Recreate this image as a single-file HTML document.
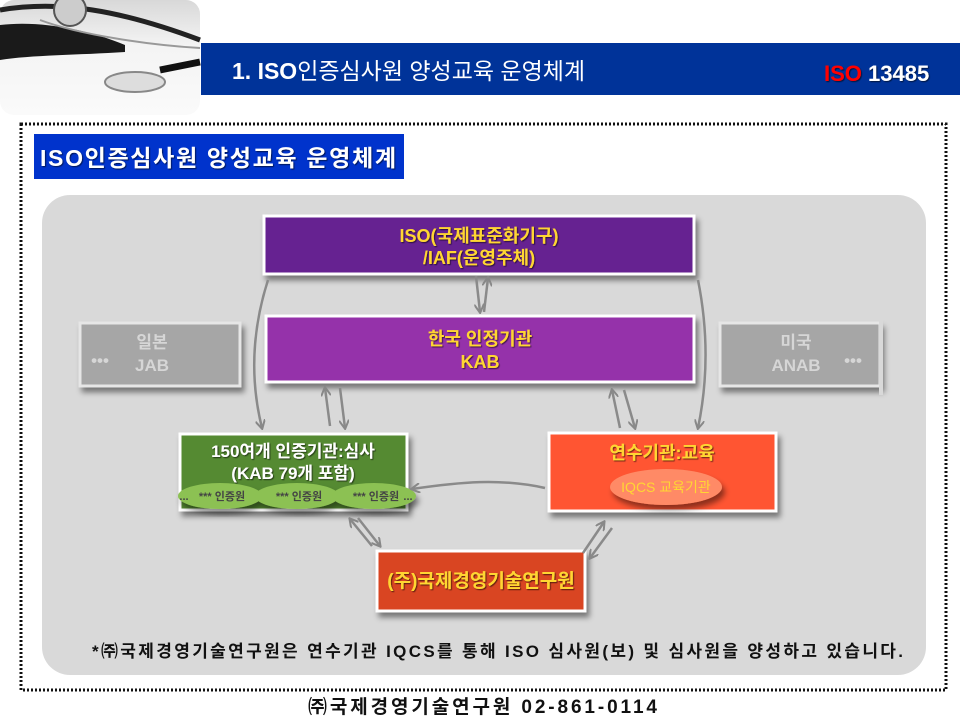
<!DOCTYPE html>
<html><head><meta charset="utf-8"><style>
body{margin:0;width:960px;height:720px;background:#fff;overflow:hidden;font-family:"Liberation Sans","Noto Sans CJK KR",sans-serif}
</style></head><body>
<svg width="960" height="720" viewBox="0 0 960 720" xmlns="http://www.w3.org/2000/svg" font-family="Liberation Sans, Noto Sans CJK KR, sans-serif">
<defs>
<filter id="sh" x="-10%" y="-10%" width="130%" height="140%"><feDropShadow dx="3" dy="5" stdDeviation="3" flood-color="#000" flood-opacity="0.45"/></filter>
<filter id="ts"><feDropShadow dx="1" dy="1" stdDeviation="0.6" flood-color="#000" flood-opacity="0.6"/></filter>
<marker id="ar" markerWidth="10" markerHeight="10" refX="8" refY="5" orient="auto" markerUnits="userSpaceOnUse"><path d="M0,0 L9,5 L0,10" fill="none" stroke="#888" stroke-width="2"/></marker>
<linearGradient id="ph" x1="0" y1="0" x2="0" y2="1"><stop offset="0" stop-color="#d8d8d8"/><stop offset="0.4" stop-color="#f4f4f4"/><stop offset="1" stop-color="#fafafa"/></linearGradient>
<clipPath id="pc"><rect x="42" y="195" width="884" height="480" rx="28"/></clipPath>
</defs>
<rect x="0" y="0" width="200" height="115" rx="14" fill="url(#ph)"/>
<path d="M0,25 C40,20 90,30 125,45 L125,52 C80,55 30,55 0,60 Z" fill="#1a1a1a"/>
<path d="M0,10 C60,0 120,10 200,40" stroke="#222" stroke-width="5" fill="none"/>
<path d="M40,20 C80,35 150,45 200,48" stroke="#999" stroke-width="2" fill="none"/>
<path d="M160,70 L200,62" stroke="#111" stroke-width="7"/>
<ellipse cx="135" cy="82" rx="30" ry="10" fill="#ddd" stroke="#888" stroke-width="2"/>
<circle cx="70" cy="10" r="16" fill="#ccc" stroke="#555" stroke-width="2"/>
<rect x="201" y="43" width="759" height="52" fill="#003399"/>
<text x="232" y="79" font-size="23" fill="#fff" font-weight="bold">1. ISO<tspan font-weight="normal">인증심사원 양성교육 운영체계</tspan></text>
<text x="824" y="81" font-size="22" font-weight="bold" fill="#ff0000" filter="url(#ts)">ISO <tspan fill="#fff">13485</tspan></text>
<rect x="21" y="124" width="925" height="566" fill="none" stroke="#111" stroke-width="3" stroke-dasharray="2,2"/>
<rect x="34" y="134" width="370" height="45" fill="#0033cc"/>
<text x="40" y="166" font-size="23" font-weight="bold" fill="#fff" filter="url(#ts)" textLength="356">ISO인증심사원 양성교육 운영체계</text>
<rect x="42" y="195" width="884" height="480" rx="28" fill="#d9d9d9"/>
<g filter="url(#sh)">
<rect x="80" y="323" width="160" height="63" fill="#a6a6a6" stroke="#e6e6e6" stroke-width="3"/>
</g>
<g clip-path="url(#pc)"><g filter="url(#sh)">
<rect x="720" y="323" width="160" height="63" fill="#a6a6a6" stroke="#e6e6e6" stroke-width="3"/>
</g></g>
<rect x="879" y="320" width="4" height="75" fill="#d9d9d9"/>
<g font-size="17" font-weight="bold" fill="#d6d6d6" text-anchor="middle">
<text x="152" y="348">일본</text><text x="152" y="371">JAB</text><text x="100" y="366">•••</text>
<text x="796" y="348">미국</text><text x="796" y="371">ANAB</text><text x="853" y="366">•••</text>
</g>
<g filter="url(#sh)" stroke="#fff" stroke-width="3">
<rect x="264" y="216" width="430" height="58" fill="#662291"/>
<rect x="266" y="316" width="428" height="66" fill="#9530aa"/>
<rect x="180" y="434" width="227" height="76" fill="#548a32"/>
<rect x="549" y="433" width="227" height="78" fill="#ff5530"/>
<rect x="377" y="551" width="208" height="60" fill="#d94520"/>
</g>
<g font-size="18" font-weight="bold" fill="#ffd633" text-anchor="middle" filter="url(#ts)">
<text x="479" y="242">ISO(국제표준화기구)</text><text x="479" y="264">/IAF(운영주체)</text>
<text x="480" y="345">한국 인정기관</text><text x="480" y="368">KAB</text>
<text x="662" y="459">연수기관:교육</text>
<text x="481" y="587" font-size="19">(주)국제경영기술연구원</text>
</g>
<g font-size="17" font-weight="bold" fill="#fff" text-anchor="middle" filter="url(#ts)">
<text x="293" y="457">150여개 인증기관:심사</text><text x="293" y="479">(KAB 79개 포함)</text>
</g>
<ellipse cx="666" cy="487" rx="56" ry="18" fill="#ff8a66" filter="url(#sh)"/>
<text x="666" y="492" font-size="14" fill="#ffd633" text-anchor="middle">IQCS 교육기관</text>
<g fill="#8cc152" filter="url(#sh)">
<ellipse cx="220" cy="496" rx="42" ry="13"/><ellipse cx="297" cy="496" rx="42" ry="13"/><ellipse cx="374" cy="496" rx="42" ry="13"/>
</g>
<g font-size="11" font-weight="bold" fill="#444" text-anchor="middle">
<text x="222" y="500">*** 인증원</text><text x="299" y="500">*** 인증원</text><text x="376" y="500">*** 인증원</text>
<text x="184" y="500">...</text><text x="408" y="500">...</text>
</g>
<g stroke="#8a8a8a" stroke-width="2.5" fill="none" marker-end="url(#ar)">
<path d="M268,280 C252,330 250,380 262,428"/>
<path d="M698,280 C708,330 708,380 698,428"/>
<path d="M476,276 L480,312"/><path d="M484,312 L488,278"/>
<path d="M330,426 L325,388"/><path d="M340,388 L345,428"/>
<path d="M620,428 L612,390"/><path d="M624,390 L635,428"/>
<path d="M545,488 C500,478 460,482 412,489"/>
<path d="M372,546 L350,519"/><path d="M358,518 L380,546"/>
<path d="M583,553 L604,522"/><path d="M612,528 L590,558"/>
</g>
<text x="92" y="657" font-size="17" font-weight="bold" fill="#111" textLength="811">*㈜국제경영기술연구원은 연수기관 IQCS를 통해 ISO 심사원(보) 및 심사원을 양성하고 있습니다.</text>
<text x="308" y="713" font-size="19" font-weight="bold" fill="#111" textLength="349">㈜국제경영기술연구원 02-861-0114</text>
</svg>
</body></html>
